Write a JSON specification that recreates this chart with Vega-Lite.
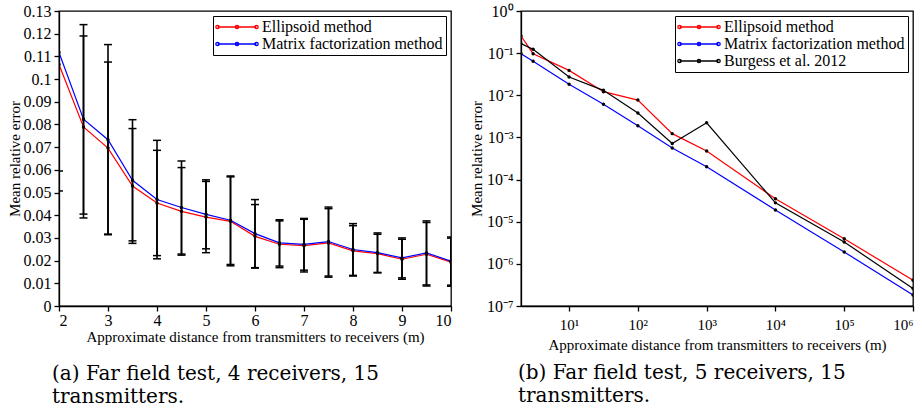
{
  "$schema": "https://vega.github.io/schema/vega-lite/v6.json",
  "background": "white",
  "padding": {"left": 6, "top": 2, "right": 0, "bottom": 0},
  "spacing": 15,
  "config": {
    "font": "Liberation Serif",
    "view": {"stroke": "black", "strokeWidth": 1.3},
    "axis": {
      "domainColor": "black", "domainWidth": 1.3, "tickColor": "black", "tickWidth": 1.3, "tickSize": 5,
      "labelColor": "black", "titleColor": "black", "labelFont": "Liberation Serif", "titleFont": "Liberation Serif",
      "labelFontSize": 16, "titleFontSize": 15, "titleFontWeight": "normal", "grid": false, "labelPadding": 3, "labelOverlap": false
    },
    "legend": {
      "orient": "top-right", "offset": 5, "title": null, "fillColor": "white", "strokeColor": "black", "strokeWidth": 1,
      "padding": 3, "labelFont": "Liberation Serif", "labelFontSize": 16, "labelColor": "black", "labelLimit": 400,
      "symbolType": "M-1,0H5M-1.26,0a0.26,0.26 0 1,0 0.52,0a0.26,0.26 0 1,0 -0.52,0M1.74,0a0.26,0.26 0 1,0 0.52,0a0.26,0.26 0 1,0 -0.52,0M4.74,0a0.26,0.26 0 1,0 0.52,0a0.26,0.26 0 1,0 -0.52,0",
      "symbolSize": 169, "symbolStrokeWidth": 1.3, "rowPadding": 1, "labelOffset": 30
    },
    "title": {"font": "DejaVu Serif", "fontSize": 20, "fontWeight": "normal", "color": "black", "orient": "bottom", "anchor": "start", "frame": "group", "lineHeight": 23}
  },
  "resolve": {"scale": {"color": "independent"}, "legend": {"color": "independent"}},
  "hconcat": [
    {
      "width": 392, "height": 295,
      "title": {"text": ["(a) Far field test, 4 receivers, 15", "transmitters."], "dx": -7, "offset": 20},
      "data": {"values": [
        {"x": 2, "method": "Ellipsoid method", "mean": 0.1064, "lo": 0.0507, "hi": 0.1621},
        {"x": 2, "method": "Matrix factorization method", "mean": 0.1117, "lo": 0.0595, "hi": 0.1639},
        {"x": 2.5, "method": "Ellipsoid method", "mean": 0.0789, "lo": 0.0388, "hi": 0.1190},
        {"x": 2.5, "method": "Matrix factorization method", "mean": 0.0823, "lo": 0.0405, "hi": 0.1240},
        {"x": 3, "method": "Ellipsoid method", "mean": 0.0696, "lo": 0.0317, "hi": 0.1075},
        {"x": 3, "method": "Matrix factorization method", "mean": 0.0733, "lo": 0.0314, "hi": 0.1152},
        {"x": 3.5, "method": "Ellipsoid method", "mean": 0.0529, "lo": 0.0276, "hi": 0.0782},
        {"x": 3.5, "method": "Matrix factorization method", "mean": 0.0554, "lo": 0.0287, "hi": 0.0821},
        {"x": 4, "method": "Ellipsoid method", "mean": 0.0454, "lo": 0.0222, "hi": 0.0686},
        {"x": 4, "method": "Matrix factorization method", "mean": 0.0469, "lo": 0.0208, "hi": 0.0730},
        {"x": 4.5, "method": "Ellipsoid method", "mean": 0.0417, "lo": 0.0224, "hi": 0.0610},
        {"x": 4.5, "method": "Matrix factorization method", "mean": 0.0434, "lo": 0.0229, "hi": 0.0639},
        {"x": 5, "method": "Ellipsoid method", "mean": 0.0392, "lo": 0.0235, "hi": 0.0549},
        {"x": 5, "method": "Matrix factorization method", "mean": 0.0404, "lo": 0.0252, "hi": 0.0556},
        {"x": 5.5, "method": "Ellipsoid method", "mean": 0.0373, "lo": 0.0177, "hi": 0.0569},
        {"x": 5.5, "method": "Matrix factorization method", "mean": 0.0378, "lo": 0.0183, "hi": 0.0573},
        {"x": 6, "method": "Ellipsoid method", "mean": 0.0307, "lo": 0.0167, "hi": 0.0447},
        {"x": 6, "method": "Matrix factorization method", "mean": 0.0319, "lo": 0.0169, "hi": 0.0469},
        {"x": 6.5, "method": "Ellipsoid method", "mean": 0.0272, "lo": 0.0169, "hi": 0.0375},
        {"x": 6.5, "method": "Matrix factorization method", "mean": 0.0278, "lo": 0.0176, "hi": 0.0380},
        {"x": 7, "method": "Ellipsoid method", "mean": 0.0266, "lo": 0.0150, "hi": 0.0382},
        {"x": 7, "method": "Matrix factorization method", "mean": 0.0272, "lo": 0.0158, "hi": 0.0386},
        {"x": 7.5, "method": "Ellipsoid method", "mean": 0.0278, "lo": 0.0127, "hi": 0.0429},
        {"x": 7.5, "method": "Matrix factorization method", "mean": 0.0284, "lo": 0.0132, "hi": 0.0436},
        {"x": 8, "method": "Ellipsoid method", "mean": 0.0243, "lo": 0.0132, "hi": 0.0354},
        {"x": 8, "method": "Matrix factorization method", "mean": 0.0249, "lo": 0.0135, "hi": 0.0363},
        {"x": 8.5, "method": "Ellipsoid method", "mean": 0.0231, "lo": 0.0146, "hi": 0.0316},
        {"x": 8.5, "method": "Matrix factorization method", "mean": 0.0235, "lo": 0.0148, "hi": 0.0322},
        {"x": 9, "method": "Ellipsoid method", "mean": 0.0206, "lo": 0.0118, "hi": 0.0294},
        {"x": 9, "method": "Matrix factorization method", "mean": 0.0212, "lo": 0.0124, "hi": 0.0300},
        {"x": 9.5, "method": "Ellipsoid method", "mean": 0.0228, "lo": 0.0088, "hi": 0.0368},
        {"x": 9.5, "method": "Matrix factorization method", "mean": 0.0234, "lo": 0.0093, "hi": 0.0375},
        {"x": 10, "method": "Ellipsoid method", "mean": 0.0193, "lo": 0.0087, "hi": 0.0299},
        {"x": 10, "method": "Matrix factorization method", "mean": 0.0198, "lo": 0.0092, "hi": 0.0304}
      ]},
      "encoding": {
        "x": {"field": "x", "type": "quantitative",
              "scale": {"domain": [2, 10], "nice": false, "zero": false},
              "axis": {"values": [2, 3, 4, 5, 6, 7, 8, 9, 10], "title": "Approximate distance from transmitters to receivers (m)", "titlePadding": 1, "labelPadding": 1, "labelOverlap": false}},
        "y": {"field": "mean", "type": "quantitative",
              "scale": {"domain": [0, 0.13], "nice": false},
              "axis": {"values": [0, 0.01, 0.02, 0.03, 0.04, 0.05, 0.06, 0.07, 0.08, 0.09, 0.1, 0.11, 0.12, 0.13], "format": ".2~f", "title": "Mean relative error", "titlePadding": 1, "labelOverlap": false}}
      },
      "layer": [
        {
          "mark": {"type": "line", "strokeWidth": 1.2, "clip": true},
          "encoding": {
            "color": {"field": "method", "type": "nominal",
                      "scale": {"domain": ["Ellipsoid method", "Matrix factorization method"], "range": ["#ff0000", "#0000ff"]}}
          }
        },
        {
          "mark": {"type": "rule", "color": "black", "strokeWidth": 1.6, "clip": true},
          "encoding": {"y": {"field": "lo", "type": "quantitative"}, "y2": {"field": "hi"}}
        },
        {
          "mark": {"type": "tick", "orient": "horizontal", "color": "black", "size": 8, "thickness": 1.5, "clip": true, "opacity": 1},
          "encoding": {"y": {"field": "lo", "type": "quantitative"}}
        },
        {
          "mark": {"type": "tick", "orient": "horizontal", "color": "black", "size": 8, "thickness": 1.5, "clip": true, "opacity": 1},
          "encoding": {"y": {"field": "hi", "type": "quantitative"}}
        },
        {
          "mark": {"type": "point", "filled": true, "color": "black", "size": 12, "opacity": 1, "clip": true},
          "encoding": {}
        }
      ]
    },
    {
      "width": 392, "height": 295,
      "title": {"text": ["(b) Far field test, 5 receivers, 15", "transmitters."], "dx": -3, "offset": 11},
      "data": {"values": [
        {"x": 2, "method": "Ellipsoid method", "err": 0.255},
        {"x": 3, "method": "Ellipsoid method", "err": 0.097},
        {"x": 10, "method": "Ellipsoid method", "err": 0.039},
        {"x": 31.6, "method": "Ellipsoid method", "err": 0.0122},
        {"x": 100, "method": "Ellipsoid method", "err": 0.0077},
        {"x": 316, "method": "Ellipsoid method", "err": 0.00123},
        {"x": 1000, "method": "Ellipsoid method", "err": 0.000476},
        {"x": 10000, "method": "Ellipsoid method", "err": 0.000035},
        {"x": 100000, "method": "Ellipsoid method", "err": 0.00000395},
        {"x": 1000000, "method": "Ellipsoid method", "err": 0.000000407},
        {"x": 2, "method": "Matrix factorization method", "err": 0.097},
        {"x": 3, "method": "Matrix factorization method", "err": 0.064},
        {"x": 10, "method": "Matrix factorization method", "err": 0.0182},
        {"x": 31.6, "method": "Matrix factorization method", "err": 0.0061},
        {"x": 100, "method": "Matrix factorization method", "err": 0.0019},
        {"x": 316, "method": "Matrix factorization method", "err": 0.00056},
        {"x": 1000, "method": "Matrix factorization method", "err": 0.000202},
        {"x": 10000, "method": "Matrix factorization method", "err": 0.000019},
        {"x": 100000, "method": "Matrix factorization method", "err": 0.00000191},
        {"x": 1000000, "method": "Matrix factorization method", "err": 0.000000182},
        {"x": 2, "method": "Burgess et al. 2012", "err": 0.168},
        {"x": 3, "method": "Burgess et al. 2012", "err": 0.123},
        {"x": 10, "method": "Burgess et al. 2012", "err": 0.0272},
        {"x": 31.6, "method": "Burgess et al. 2012", "err": 0.0131},
        {"x": 100, "method": "Burgess et al. 2012", "err": 0.0038},
        {"x": 316, "method": "Burgess et al. 2012", "err": 0.00072},
        {"x": 1000, "method": "Burgess et al. 2012", "err": 0.00223},
        {"x": 10000, "method": "Burgess et al. 2012", "err": 0.000028},
        {"x": 100000, "method": "Burgess et al. 2012", "err": 0.0000033},
        {"x": 1000000, "method": "Burgess et al. 2012", "err": 0.00000026}
      ]},
      "encoding": {
        "x": {"field": "x", "type": "quantitative",
              "scale": {"type": "log", "domain": [2, 1000000], "nice": false},
              "axis": {"values": [10, 100, 1000, 10000, 100000, 1000000], "labelPadding": 6, "labelFontSize": 15, "labelOverlap": false,
                       "labelExpr": "'10' + substring('⁰¹²³⁴⁵⁶⁷', round(log(datum.value)/LN10), round(log(datum.value)/LN10)+1)",
                       "title": "Approximate distance from transmitters to receivers (m)", "titlePadding": 5}},
        "y": {"field": "err", "type": "quantitative",
              "scale": {"type": "log", "domain": [0.0000001, 1], "nice": false},
              "axis": {"values": [1, 0.1, 0.01, 0.001, 0.0001, 0.00001, 0.000001, 0.0000001], "labelOverlap": false,
                       "labelExpr": "datum.value >= 0.5 ? '10⁰' : '10⁻' + substring('⁰¹²³⁴⁵⁶⁷', round(-log(datum.value)/LN10), round(-log(datum.value)/LN10)+1)",
                       "title": "Mean relative error", "titlePadding": 2}}
      },
      "layer": [
        {
          "mark": {"type": "line", "strokeWidth": 1.2, "clip": true},
          "encoding": {
            "color": {"field": "method", "type": "nominal",
                      "scale": {"domain": ["Ellipsoid method", "Matrix factorization method", "Burgess et al. 2012"], "range": ["#ff0000", "#0000ff", "#000000"]}}
          }
        },
        {
          "mark": {"type": "point", "filled": true, "color": "black", "size": 12, "opacity": 1, "clip": true},
          "encoding": {}
        }
      ]
    }
  ]
}
